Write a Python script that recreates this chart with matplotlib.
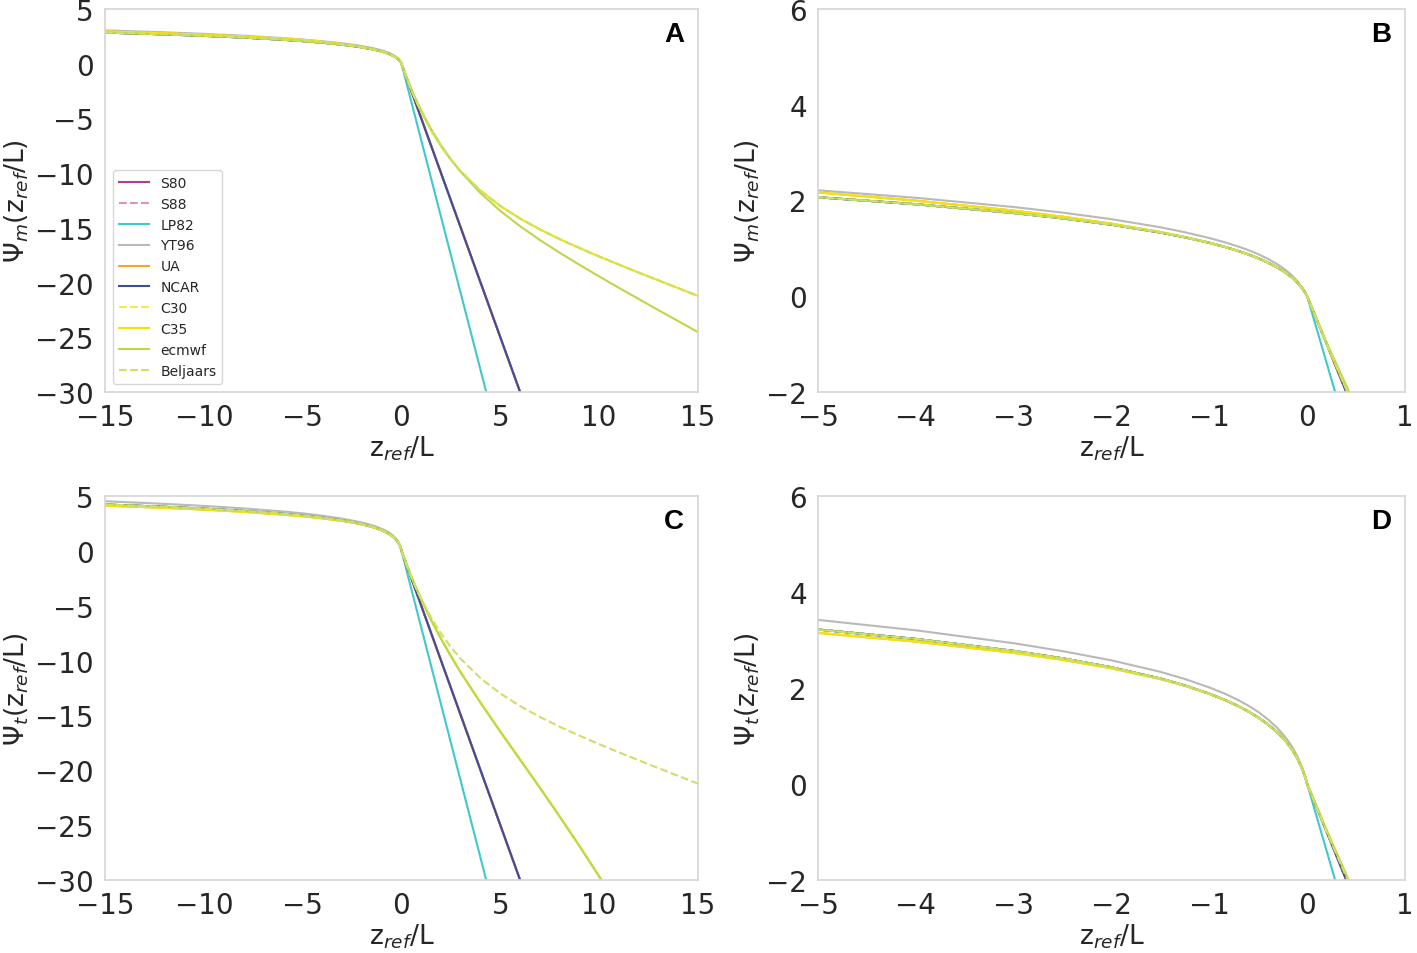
import numpy as np
import matplotlib
matplotlib.use('Agg')
import matplotlib.pyplot as plt

# stability parameter z_ref/L
zeta_unst = [-15, -12, -10, -8, -6, -5, -4, -3, -2.5, -2, -1.5, -1.25, -1,
             -0.85, -0.7, -0.6, -0.5, -0.4, -0.3, -0.25, -0.2, -0.15, -0.1,
             -0.05, -0.02, 0]
zeta_stab = [0.2, 0.45, 0.7, 1, 1.5, 2, 2.5, 3, 4, 5, 6, 7, 8, 9, 10, 11, 12,
             13, 15]

# momentum, unstable side
psim_bd_unst = [2.847, 2.682, 2.549, 2.391, 2.191, 2.068, 1.922, 1.739, 1.627,
                1.495, 1.331, 1.232, 1.116, 1.035, 0.943, 0.873, 0.793, 0.703,
                0.594, 0.532, 0.461, 0.380, 0.284, 0.164, 0.073, 0]
psim_yt96_unst = [3.047, 2.872, 2.729, 2.561, 2.346, 2.213, 2.057, 1.864,
                  1.747, 1.610, 1.441, 1.337, 1.216, 1.132, 1.036, 0.963,
                  0.878, 0.781, 0.662, 0.594, 0.515, 0.424, 0.316, 0.182,
                  0.081, 0]
psim_c35_unst = [2.947, 2.782, 2.649, 2.491, 2.291, 2.168, 1.997, 1.789, 1.662,
                 1.515, 1.341, 1.237, 1.116, 1.035, 0.943, 0.873, 0.793, 0.703,
                 0.594, 0.532, 0.461, 0.380, 0.284, 0.164, 0.073, 0]

# momentum, stable side
psim_lin5_stab = [-1.0, -2.25, -3.5, -5, -7.5, -10, -12.5, -15, -20, -25, -30,
                  -35, -40, -45, -50, -55, -60, -65, -75]
psim_lin7_stab = [-1.4, -3.15, -4.9, -7, -10.5, -14, -17.5, -21, -28, -35, -42,
                  -49, -56, -63, -70, -77, -84, -91, -105]
psim_ecmwf_stab = [-0.97, -2.09, -3.14, -4.28, -5.98, -7.46, -8.75, -9.89,
                   -11.83, -13.45, -14.85, -16.11, -17.27, -18.37, -19.44,
                   -20.48, -21.50, -22.52, -24.53]
psim_c35_stab = [-1.00, -2.17, -3.23, -4.39, -6.09, -7.54, -8.78, -9.85,
                 -11.61, -13.00, -14.15, -15.14, -16.03, -16.84, -17.62,
                 -18.36, -19.09, -19.80, -21.22]

# heat, unstable side
psih_bd_unst = [4.223, 4.015, 3.847, 3.642, 3.382, 3.219, 3.022, 2.773, 2.618,
                2.431, 2.197, 2.053, 1.881, 1.760, 1.619, 1.510, 1.386, 1.241,
                1.066, 0.962, 0.844, 0.704, 0.534, 0.315, 0.144, 0]
psih_yt96_unst = [4.523, 4.285, 4.097, 3.872, 3.592, 3.419, 3.202, 2.933,
                  2.768, 2.576, 2.337, 2.188, 2.011, 1.890, 1.744, 1.630,
                  1.501, 1.346, 1.156, 1.042, 0.914, 0.762, 0.577, 0.339,
                  0.154, 0]
psih_c35_unst = [4.123, 3.925, 3.762, 3.562, 3.307, 3.149, 2.967, 2.733, 2.588,
                 2.411, 2.187, 2.048, 1.881, 1.760, 1.619, 1.510, 1.386, 1.241,
                 1.066, 0.962, 0.844, 0.704, 0.534, 0.315, 0.144, 0]

# heat, stable side
psih_ecmwf_stab = [-0.97, -2.13, -3.21, -4.43, -6.31, -8.02, -9.60, -11.09,
                   -13.85, -16.47, -19.03, -21.59, -24.21, -26.89, -29.67,
                   -32.53, -35.50, -38.57, -45.01]
psih_belj_stab = psim_c35_stab

models = ['S80', 'S88', 'LP82', 'YT96', 'UA', 'NCAR', 'C30', 'C35',
          'ecmwf', 'Beljaars']
colors = ['#b5389f', '#e48cc3', '#3ec9cc', '#b9b9b9', '#f7a62d', '#3d4ba0',
          '#f7e84a', '#f5e20c', '#bcd84a', '#c8e26a']
styles = ['-', '--', '-', '-', '-', '-', '--', '-', '-', '--']

# which unstable / stable pieces each model uses
psim_parts = {
    'S80': (psim_bd_unst, psim_lin5_stab),
    'S88': (psim_bd_unst, psim_lin5_stab),
    'LP82': (psim_bd_unst, psim_lin7_stab),
    'YT96': (psim_yt96_unst, psim_lin5_stab),
    'UA': (psim_c35_unst, psim_lin5_stab),
    'NCAR': (psim_bd_unst, psim_lin5_stab),
    'C30': (psim_c35_unst, psim_c35_stab),
    'C35': (psim_c35_unst, psim_c35_stab),
    'ecmwf': (psim_bd_unst, psim_ecmwf_stab),
    'Beljaars': (psim_bd_unst, psim_c35_stab),
}
psih_parts = {
    'S80': (psih_bd_unst, psim_lin5_stab),
    'S88': (psih_bd_unst, psim_lin5_stab),
    'LP82': (psih_bd_unst, psim_lin7_stab),
    'YT96': (psih_yt96_unst, psim_lin5_stab),
    'UA': (psih_c35_unst, psim_lin5_stab),
    'NCAR': (psih_bd_unst, psim_lin5_stab),
    'C30': (psih_c35_unst, psih_ecmwf_stab),
    'C35': (psih_c35_unst, psih_ecmwf_stab),
    'ecmwf': (psih_bd_unst, psih_ecmwf_stab),
    'Beljaars': (psih_bd_unst, psih_belj_stab),
}

plt.rcParams['font.family'] = 'DejaVu Sans'
plt.rcParams['text.color'] = '.15'
plt.rcParams['axes.labelcolor'] = '.15'
plt.rcParams['xtick.color'] = '.15'
plt.rcParams['ytick.color'] = '.15'

fig = plt.figure(figsize=(14.17, 9.54), dpi=100)
W, H = 1417, 954


def make_ax(x0, x1, y0, y1):
    return fig.add_axes([x0 / W, 1 - y1 / H, (x1 - x0) / W, (y1 - y0) / H])


ax_a = make_ax(105, 698, 10, 393)
ax_b = make_ax(818, 1405, 10, 393)
ax_c = make_ax(105, 698, 497, 881)
ax_d = make_ax(818, 1405, 497, 881)

zeta = np.array(zeta_unst + zeta_stab)

panels = [
    (ax_a, psim_parts, 'A', r'$\Psi_m$(z$_{ref}$/L)', (-15, 15), (-30, 5)),
    (ax_b, psim_parts, 'B', r'$\Psi_m$(z$_{ref}$/L)', (-5, 1), (-2, 6)),
    (ax_c, psih_parts, 'C', r'$\Psi_t$(z$_{ref}$/L)', (-15, 15), (-30, 5)),
    (ax_d, psih_parts, 'D', r'$\Psi_t$(z$_{ref}$/L)', (-5, 1), (-2, 6)),
]

for ax, parts, tag, ylab, xl, yl in panels:
    for name, col, ls in zip(models, colors, styles):
        unst, stab = parts[name]
        ax.plot(zeta, np.array(unst + stab), color=col, ls=ls, lw=1.5,
                label=name)
    ax.set_xlim(*xl)
    ax.set_ylim(*yl)
    if xl[0] == -15:
        ax.set_xticks(np.arange(-15, 16, 5))
        ax.set_yticks(np.arange(-30, 6, 5))
    else:
        ax.set_xticks(np.arange(-5, 2, 1))
        ax.set_yticks(np.arange(-2, 7, 2))
    ax.tick_params(length=0, labelsize=20, pad=8)
    for sp in ax.spines.values():
        sp.set_color('#d5d5d5')
        sp.set_linewidth(1.2)
    ax.set_xlabel('z$_{ref}$/L', fontsize=19, labelpad=2)
    ax.set_ylabel(ylab, fontsize=19, labelpad=3)
    ax.text(0.977, 0.935, tag, transform=ax.transAxes, ha='right',
            va='center', fontsize=20, fontweight='bold', color='black',
            family='Liberation Sans')

ax_a.legend(loc='lower left', fontsize=10, frameon=True, handlelength=2.2,
            borderaxespad=0.6, labelspacing=0.5)

fig.savefig('out.png', dpi=100)
